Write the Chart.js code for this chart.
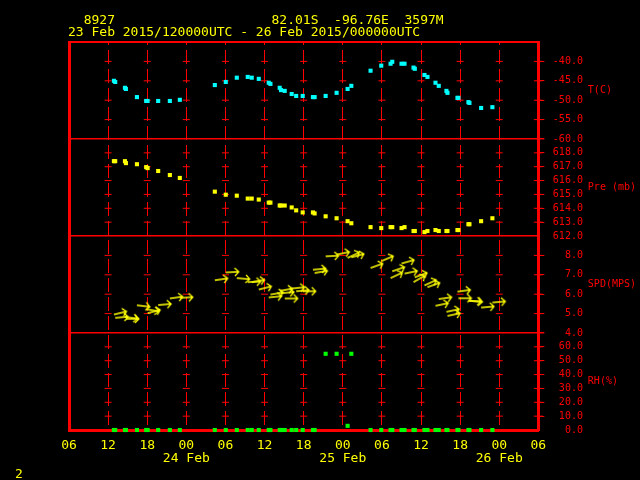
<!DOCTYPE html>
<html><head><meta charset="utf-8">
<script src="https://cdn.jsdelivr.net/npm/chart.js@4.4.1/dist/chart.umd.min.js"></script>
<style>html,body{margin:0;padding:0;background:#000;overflow:hidden}canvas{display:block}</style>
</head><body>
<canvas id="c" width="640" height="480" style="width:640px;height:480px"></canvas>
<script>
// ---- data (hours since 23 Feb 2015 06 UTC) ----
const hours = [6.89,7.09,8.58,8.73,10.42,11.84,12.06,13.68,15.47,17.00,22.37,24.05,25.74,27.42,28.03,29.11,30.64,30.90,32.32,32.52,33.09,34.16,34.85,35.85,37.42,37.68,39.37,41.05,42.74,43.31,46.26,47.90,49.33,49.59,51.01,51.47,52.85,53.05,54.53,54.99,56.22,56.72,57.90,58.06,59.59,59.74,61.27,61.43,63.22,64.95];
const tempC = [-45.0,-45.3,-46.8,-47.1,-49.2,-50.2,-50.2,-50.2,-50.2,-49.9,-46.1,-45.3,-44.2,-44.0,-44.2,-44.5,-45.5,-45.8,-46.8,-47.4,-47.6,-48.4,-48.9,-48.9,-49.2,-49.2,-48.9,-48.1,-47.1,-46.3,-42.4,-41.1,-40.6,-40.1,-40.6,-40.6,-41.6,-41.9,-43.5,-44.0,-45.5,-46.3,-47.6,-48.1,-49.4,-49.4,-50.5,-50.7,-52.0,-51.8];
const presMb = [617.40,617.40,617.40,617.26,617.18,616.97,616.90,616.69,616.40,616.19,615.20,614.98,614.91,614.70,614.70,614.63,614.41,614.41,614.20,614.20,614.20,614.06,613.85,613.70,613.70,613.63,613.42,613.28,613.07,612.92,612.64,612.57,612.64,612.64,612.57,612.64,612.36,612.36,612.28,612.36,612.43,612.36,612.36,612.36,612.43,612.43,612.85,612.85,613.07,613.28];
const windSpd = [4.95,4.78,4.83,4.73,5.43,5.23,5.02,5.44,5.78,5.81,6.72,7.12,6.83,6.62,6.62,6.24,5.83,5.98,6.17,6.05,5.78,6.29,6.15,6.15,7.26,7.09,7.95,8.04,7.87,7.90,7.35,7.70,6.83,7.18,7.58,7.06,6.62,6.87,6.45,6.36,5.40,5.75,5.09,4.88,6.13,5.79,5.66,5.66,5.31,5.57];
const windRot = [-14,-5,8,0,7,10,-15,-5,-8,-3,-8,-3,5,-3,-10,-14,-6,-10,-10,-5,0,-6,-5,0,-5,-10,-3,-12,-25,-15,-20,-23,-25,-19,-16,-12,-30,-20,-25,-20,-12,-8,-12,-12,-8,0,3,5,-5,-5];
const rhPct = [0,0,0,0,0,0,0,0,0,0,0,0,0,0,0,0,0,0,0,0,0,0,0,0,0,0,55,55,3,55,0,0,0,0,0,0,0,0,0,0,0,0,0,0,0,0,0,0,0,0];

const xTickHours = [0,6,12,18,24,30,36,42,48,54,60,66,72];
const hourLabels = ['06','12','18','00','06','12','18','00','06','12','18','00','06'];
const dateLabels = ['','','','24 Feb','','','','25 Feb','','','','26 Feb',''];
const tTicks = [-60,-55,-50,-45,-40];
const pTicks = [612,613,614,615,616,617,618];
const sTicks = [4,5,6,7,8];
const rTicks = [0,10,20,30,40,50,60];
const titleLine1 = '  8927                    82.01S  -96.76E  3597M';
const titleLine2 = '23 Feb 2015/120000UTC - 26 Feb 2015/000000UTC';
const pageLabel = '2';

// ---- styles ----
const RED = '#ff0000', YEL = '#ffff00', CYAN = '#00ffff', GRN = '#00ff00', NONE = 'rgba(0,0,0,0)';
const MONO = '"DejaVu Sans Mono", "Liberation Mono", monospace';

function makeArrow(color) {
  const L = 13, c = document.createElement('canvas');
  c.width = 2 * L + 6; c.height = 14;
  const g = c.getContext('2d');
  const cx = c.width / 2, cy = c.height / 2;
  g.strokeStyle = color; g.lineWidth = 1.3;
  g.beginPath();
  g.moveTo(cx, cy); g.lineTo(cx + L, cy);
  g.moveTo(cx + L - 4, cy - 4); g.lineTo(cx + L, cy); g.lineTo(cx + L - 4, cy + 4);
  g.stroke();
  return c;
}
const arrowImg = makeArrow(YEL);

const gridHours = xTickHours.slice(1, -1);
function crossPoints(ticks) {
  const inner = ticks.slice(1), pts = [];
  for (const h of gridHours.concat([72])) for (const v of inner) pts.push({x: h, y: v});
  return pts;
}
function series(vals) { return hours.map((h, i) => ({x: h, y: vals[i]})); }

function yAxis(min, max, ticks, sepValue, noOutTick) {
  return {
    type: 'linear', position: 'right', stack: 'panels', stackWeight: 1, min, max, offset: false,
    afterBuildTicks: s => { s.ticks = ticks.map(v => ({value: v})); },
    ticks: {color: RED, font: {family: MONO, size: 10}, padding: 8.5, crossAlign: 'near', autoSkip: false,
            callback: v => Number(v).toFixed(1).padStart(5, ' ')},
    grid: {drawOnChartArea: true, drawTicks: true, tickLength: 6,
           lineWidth: c => (c.tick && c.tick.value === sepValue) ? 1.5 : 1,
           color: c => (c.tick && c.tick.value === sepValue) ? RED : NONE,
           tickColor: c => (c.tick && c.tick.value === noOutTick) ? NONE : RED},
    border: {display: true, color: RED, width: 3}
  };
}

const crossStyle = (axis, ticks) => ({
  data: crossPoints(ticks), yAxisID: axis, xAxisID: 'x', showLine: false, clip: false,
  pointStyle: 'line', pointBorderColor: RED, pointBorderWidth: 1,
  pointRadius: c => (c.raw && c.raw.x === 72) ? 4.5 : 3.5
});

const textPlugin = {
  id: 'texts',
  beforeDraw(chart) {
    const ctx = chart.ctx; ctx.save(); ctx.fillStyle = '#000'; ctx.fillRect(0, 0, chart.width, chart.height); ctx.restore();
  },
  afterDraw(chart) {
    const ctx = chart.ctx; ctx.save();
    ctx.font = '13px ' + MONO; ctx.fillStyle = YEL; ctx.textAlign = 'left'; ctx.textBaseline = 'alphabetic';
    ctx.fillText(titleLine1, 68, 23.5);
    ctx.fillText(titleLine2, 68, 36);
    ctx.fillText(pageLabel, 15, 478);
    ctx.font = '10px ' + MONO; ctx.fillStyle = RED; ctx.textBaseline = 'middle';
    const units = [['yT', 'T(C)'], ['yP', 'Pre (mb)'], ['yS', 'SPD(MPS)'], ['yR', 'RH(%)']];
    for (const [id, u] of units) {
      const s = chart.scales[id];
      ctx.fillText(u, chart.chartArea.right + 49.5, (s.top + s.bottom) / 2);
    }
    ctx.restore();
  }
};

new Chart(document.getElementById('c'), {
  type: 'scatter',
  data: {
    datasets: [
      {data: series(rhPct), yAxisID: 'yR', xAxisID: 'x', pointStyle: 'rect', pointRadius: 2.9, pointBorderWidth: 0, pointBackgroundColor: GRN, clip: false},
      {data: series(windSpd), yAxisID: 'yS', xAxisID: 'x', pointStyle: arrowImg, pointRotation: windRot, pointRadius: 6, clip: false},
      {data: series(presMb), yAxisID: 'yP', xAxisID: 'x', pointStyle: 'rect', pointRadius: 2.9, pointBorderWidth: 0, pointBackgroundColor: YEL, clip: false},
      {data: series(tempC), yAxisID: 'yT', xAxisID: 'x', pointStyle: 'rect', pointRadius: 2.9, pointBorderWidth: 0, pointBackgroundColor: CYAN, clip: false},
      crossStyle('yT', tTicks), crossStyle('yP', pTicks), crossStyle('yS', sTicks), crossStyle('yR', rTicks)
    ]
  },
  options: {
    responsive: false, maintainAspectRatio: false, animation: false, events: [],
    layout: {autoPadding: false, padding: {left: 69, right: 49.5, top: 42, bottom: 6}},
    plugins: {legend: {display: false}, tooltip: {enabled: false}, title: {display: false}},
    scales: {
      x: {
        type: 'linear', position: 'bottom', min: 0, max: 72,
        afterBuildTicks: s => { s.ticks = xTickHours.map(v => ({value: v})); },
        ticks: {color: YEL, font: {family: MONO, size: 13, lineHeight: 1}, padding: 9, maxRotation: 0, autoSkip: false,
                callback: (v) => { const i = xTickHours.indexOf(v); return dateLabels[i] ? [hourLabels[i], dateLabels[i]] : hourLabels[i]; }},
        grid: {drawTicks: false, lineWidth: 1, color: c => (c.tick && (c.tick.value === 0 || c.tick.value === 72)) ? NONE : RED},
        border: {display: true, color: RED, width: 3, dash: [14, 5], dashOffset: 11}
      },
      xt: {type: 'linear', position: 'top', min: 0, max: 72, ticks: {display: false}, grid: {display: false, drawTicks: false}, border: {display: true, color: RED, width: 2}},
      yl: {type: 'linear', position: 'left', min: 0, max: 1, ticks: {display: false}, grid: {display: false, drawTicks: false}, border: {display: true, color: RED, width: 3}},
      yT: yAxis(-60, -35, tTicks, -60, null),
      yP: yAxis(612, 619, pTicks, 612, 612),
      yS: yAxis(4, 9, sTicks, 4, null),
      yR: yAxis(0, 70, rTicks, null, 0)
    }
  },
  plugins: [textPlugin]
});
</script>
</body></html>
